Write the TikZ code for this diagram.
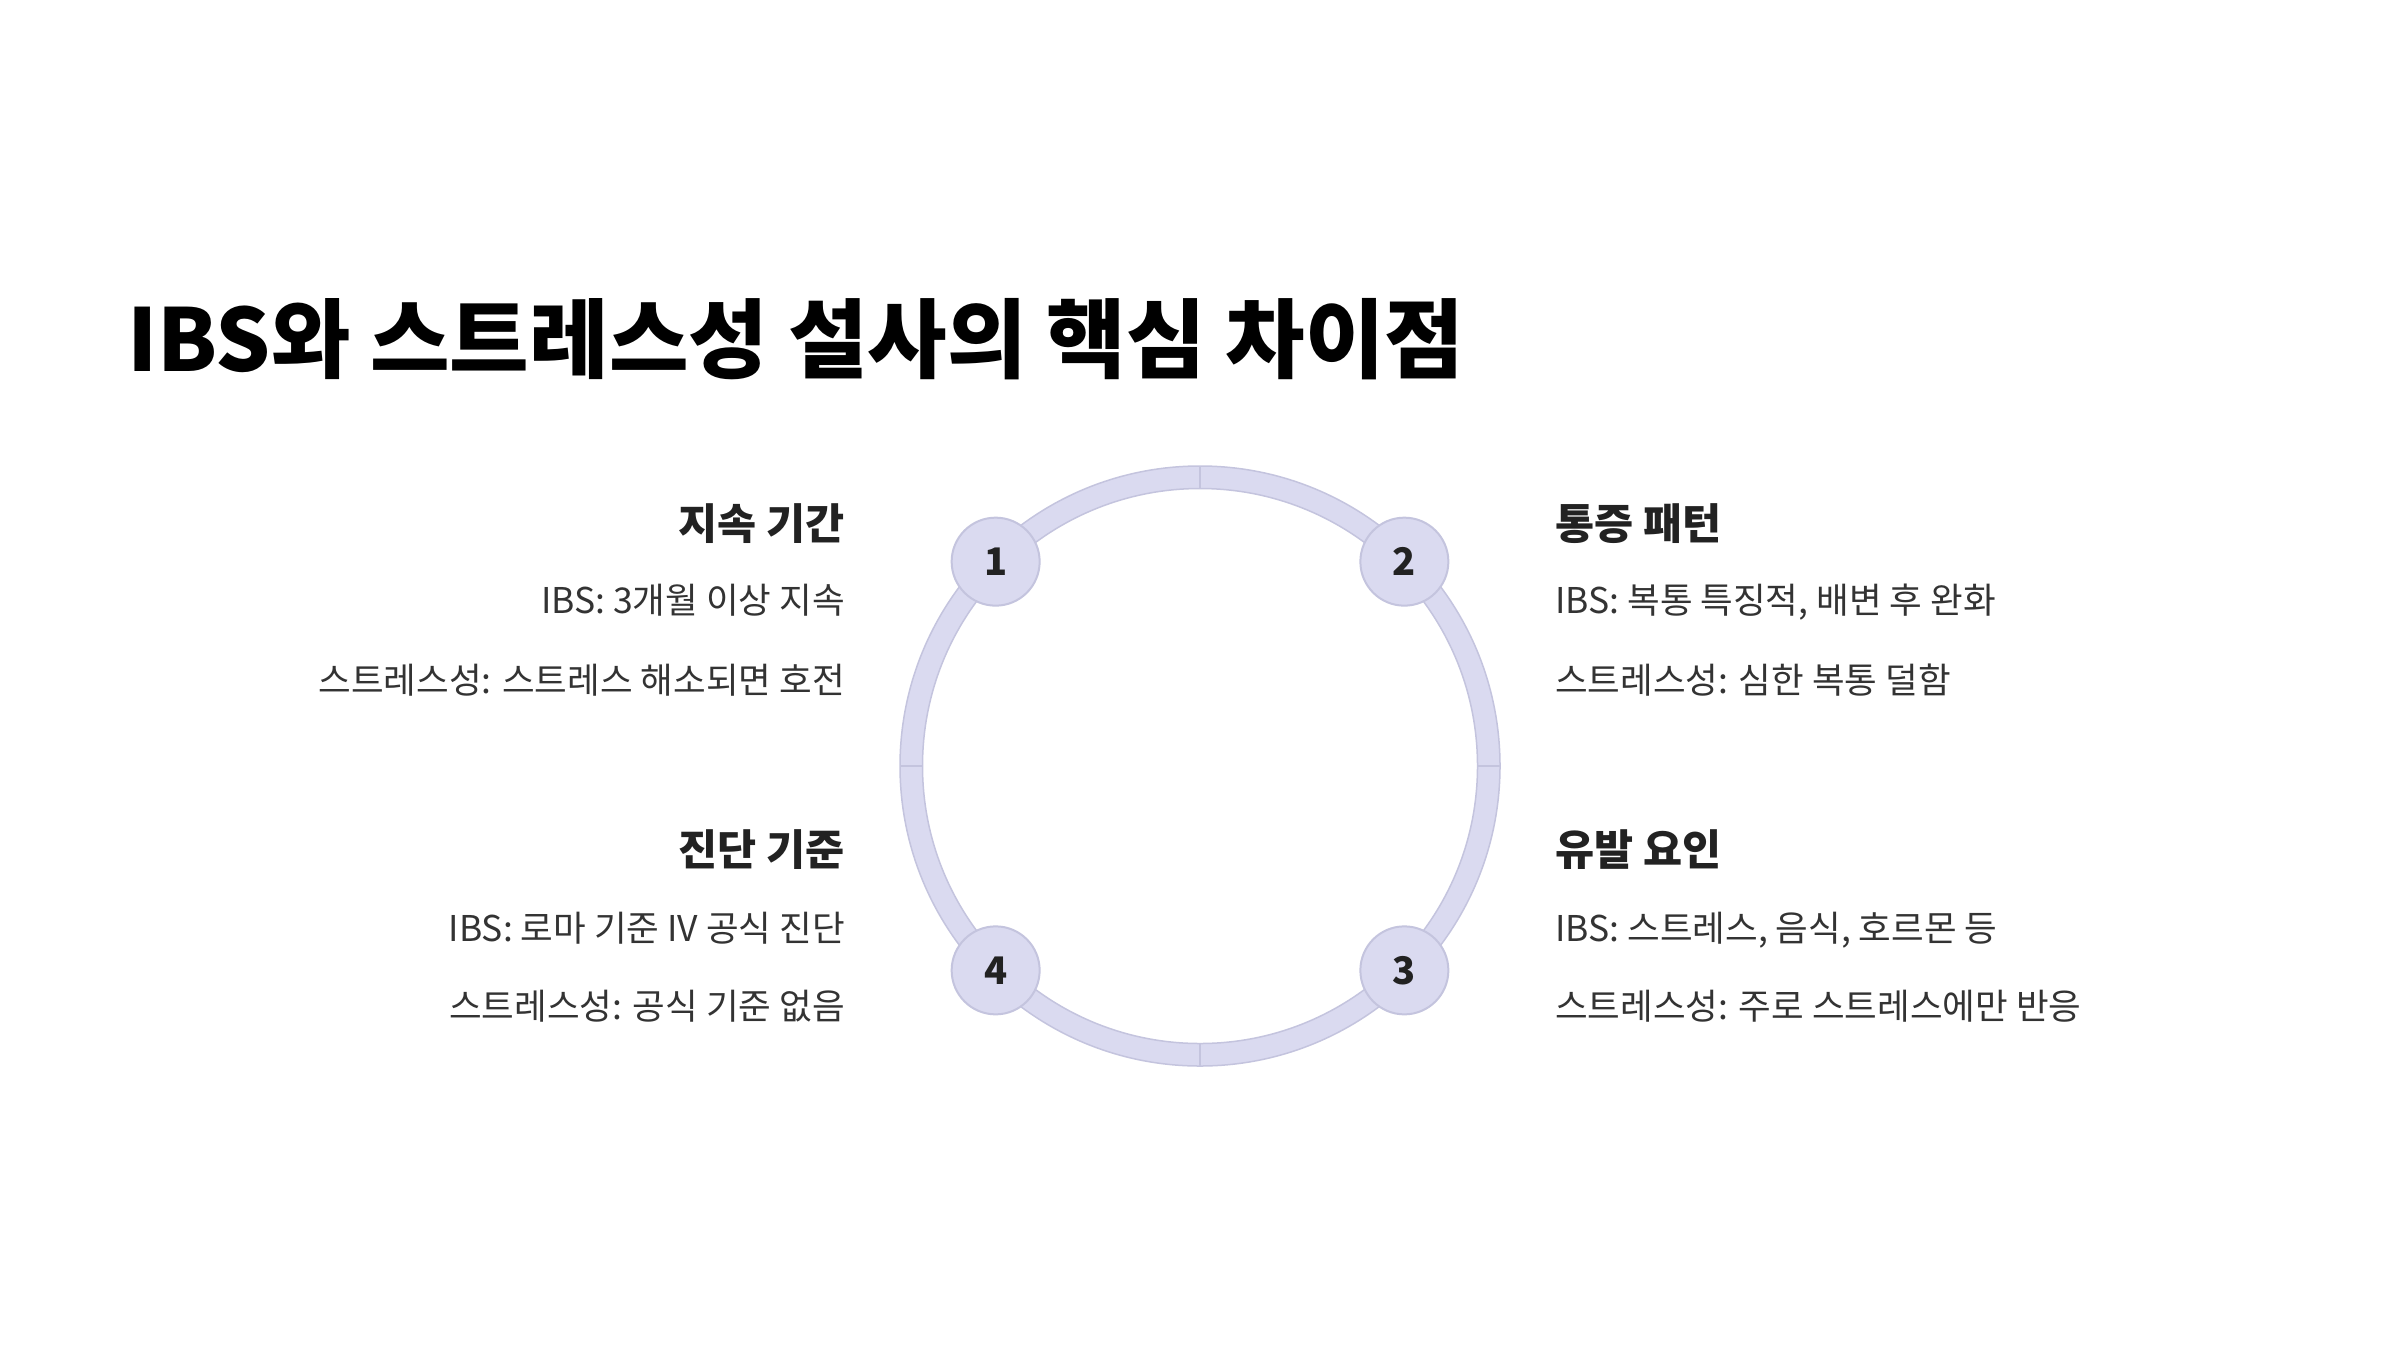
\documentclass[tikz,border=0pt]{standalone}
\usepackage{fontspec}
\setmainfont{Noto Sans CJK KR}
\usetikzlibrary{calc}
\definecolor{ringfill}{RGB}{218,218,240}
\definecolor{ringline}{RGB}{196,196,222}
\definecolor{headc}{RGB}{34,34,34}
\definecolor{bodyc}{RGB}{51,51,51}
\begin{document}
\begin{tikzpicture}[x=1pt,y=-1pt,
  title/.style={anchor=base west,inner sep=0pt,text=black,font=\fontsize{86.5}{96}\bfseries\selectfont},
  headL/.style={anchor=base east,inner sep=0pt,text=headc,font=\fontsize{42.5}{50}\bfseries\selectfont},
  headR/.style={anchor=base west,inner sep=0pt,text=headc,font=\fontsize{42.5}{50}\bfseries\selectfont},
  bodyL/.style={anchor=base east,inner sep=0pt,text=bodyc,font=\fontsize{35.5}{42}\selectfont},
  bodyR/.style={anchor=base west,inner sep=0pt,text=bodyc,font=\fontsize{35.5}{42}\selectfont},
  numc/.style={circle,minimum size=88pt,inner sep=0pt,fill=ringfill,draw=ringline,line width=2pt,text=headc,font=\fontsize{38}{44}\bfseries\selectfont}
]
\fill[white] (0,0) rectangle (2400,1350);
\useasboundingbox (0,0) rectangle (2400,1350);
\coordinate (c) at (1200,766);
% ring
\fill[ringfill,even odd rule] (c) circle (300) (c) circle (277.5);
\draw[ringline,line width=1.5pt] (c) circle (300);
\draw[ringline,line width=1.5pt] (c) circle (277.5);
\foreach \a in {0,90,180,270}{
  \draw[ringline,line width=1.5pt] ($(c)+(\a:277.5)$) -- ($(c)+(\a:300)$);
}
\node[numc] (n1) at ($(c)+(-135:289)$) {1};
\node[numc] (n2) at ($(c)+(-45:289)$) {2};
\node[numc] (n3) at ($(c)+(45:289)$) {3};
\node[numc] (n4) at ($(c)+(135:289)$) {4};
% title
\node[title] (t) at (127,371) {IBS와 스트레스성 설사의 핵심 차이점};
% left top
\node[headL] (h1) at (845,539) {지속 기간};
\node[bodyL] (b1a) at (845,613) {IBS: 3개월 이상 지속};
\node[bodyL] (b1b) at (845,693) {스트레스성: 스트레스 해소되면 호전};
% right top
\node[headR] (h2) at (1555,539) {통증 패턴};
\node[bodyR] (b2a) at (1555,613) {IBS: 복통 특징적, 배변 후 완화};
\node[bodyR] (b2b) at (1555,693) {스트레스성: 심한 복통 덜함};
% left bottom
\node[headL] (h4) at (845,865) {진단 기준};
\node[bodyL] (b4a) at (845,941) {IBS: 로마 기준 IV 공식 진단};
\node[bodyL] (b4b) at (845,1019) {스트레스성: 공식 기준 없음};
% right bottom
\node[headR] (h3) at (1555,865) {유발 요인};
\node[bodyR] (b3a) at (1555,941) {IBS: 스트레스, 음식, 호르몬 등};
\node[bodyR] (b3b) at (1555,1019) {스트레스성: 주로 스트레스에만 반응};
\end{tikzpicture}
\end{document}
